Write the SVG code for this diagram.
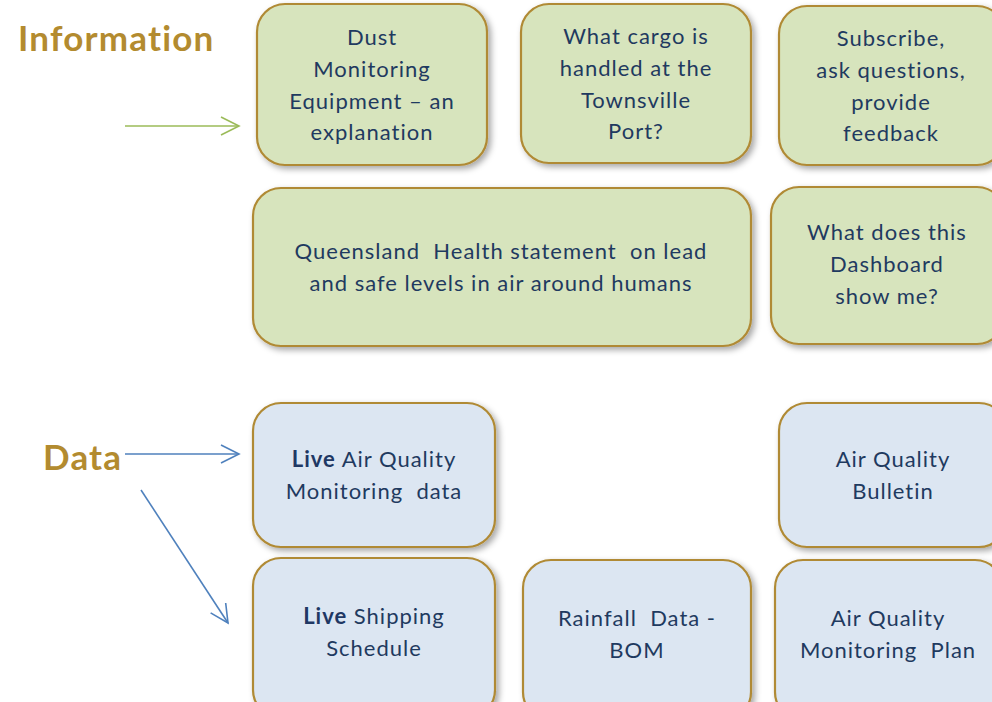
<svg xmlns="http://www.w3.org/2000/svg" width="992" height="702" viewBox="0 0 992 702">
<defs>
<filter id="sh" x="-10%" y="-10%" width="130%" height="130%">
<feDropShadow dx="3" dy="3" stdDeviation="3" flood-color="#000" flood-opacity="0.35"/>
</filter>
<marker id="ag" viewBox="-20 -11 22 22" refX="0" refY="0" markerWidth="22" markerHeight="22" markerUnits="userSpaceOnUse" orient="auto">
<path d="M-18,-9 L0,0 L-18,9" fill="none" stroke="#9BBB59" stroke-width="1.6"/>
</marker>
<marker id="ab" viewBox="-20 -11 22 22" refX="0" refY="0" markerWidth="22" markerHeight="22" markerUnits="userSpaceOnUse" orient="auto">
<path d="M-18,-9 L0,0 L-18,9" fill="none" stroke="#4F81BD" stroke-width="1.6"/>
</marker>
</defs>
<style>
.box{stroke:#B08A34;stroke-width:2.2;filter:url(#sh)}
.g{fill:#D7E4BD}
.b{fill:#DCE6F2}
.t{font-family:Lato,"Open Sans",sans-serif;font-size:22px;fill:#1F3A60;text-anchor:middle;letter-spacing:1px;white-space:pre}
.lbl{font-family:Lato,"Open Sans",sans-serif;font-weight:bold;font-size:35px;fill:#B38B2F;letter-spacing:1.2px}
.bold{font-weight:bold;fill:#1F3864}
</style>
<rect width="992" height="702" fill="#FFFFFF"/>
<text class="lbl" x="18" y="51">Information</text>
<text class="lbl" x="43" y="470">Data</text>
<g id="connectors">
<line x1="125" y1="126" x2="239" y2="126" stroke="#9BBB59" stroke-width="1.6" marker-end="url(#ag)"/>
<line x1="125" y1="454" x2="239" y2="454" stroke="#4F81BD" stroke-width="1.6" marker-end="url(#ab)"/>
<line x1="141" y1="490" x2="228" y2="623" stroke="#4F81BD" stroke-width="1.6" marker-end="url(#ab)"/>
</g>
<g id="dust">
<rect class="box g" x="257" y="4" width="230" height="161" rx="28"/>
<text class="t" x="372" y="45">Dust</text>
<text class="t" x="372" y="77">Monitoring</text>
<text class="t" x="372" y="109">Equipment – an</text>
<text class="t" x="372" y="140">explanation</text>
</g>
<g id="cargo">
<rect class="box g" x="521" y="4" width="230" height="159" rx="28"/>
<text class="t" x="636" y="44">What cargo is</text>
<text class="t" x="636" y="76">handled at the</text>
<text class="t" x="636" y="108">Townsville</text>
<text class="t" x="636" y="139">Port?</text>
</g>
<g id="subscribe">
<rect class="box g" x="779" y="6" width="226" height="159" rx="28"/>
<text class="t" x="891" y="46">Subscribe,</text>
<text class="t" x="891" y="78">ask questions,</text>
<text class="t" x="891" y="110">provide</text>
<text class="t" x="891" y="141">feedback</text>
</g>
<g id="qld">
<rect class="box g" x="253" y="188" width="498" height="158" rx="28"/>
<text class="t" x="501" y="259">Queensland  Health statement  on lead</text>
<text class="t" x="501" y="291">and safe levels in air around humans</text>
</g>
<g id="dashboard">
<rect class="box g" x="771" y="187" width="234" height="157" rx="28"/>
<text class="t" x="887" y="240">What does this</text>
<text class="t" x="887" y="272">Dashboard</text>
<text class="t" x="887" y="304">show me?</text>
</g>
<g id="liveair">
<rect class="box b" x="253" y="403" width="242" height="144" rx="28"/>
<text class="t" x="374" y="467"><tspan class="bold">Live</tspan> Air Quality</text>
<text class="t" x="374" y="499">Monitoring  data</text>
</g>
<g id="bulletin">
<rect class="box b" x="779" y="403" width="228" height="144" rx="28"/>
<text class="t" x="893" y="467">Air Quality</text>
<text class="t" x="893" y="499">Bulletin</text>
</g>
<g id="shipping">
<rect class="box b" x="253" y="558" width="242" height="160" rx="28"/>
<text class="t" x="374" y="624"><tspan class="bold">Live</tspan> Shipping</text>
<text class="t" x="374" y="656">Schedule</text>
</g>
<g id="rainfall">
<rect class="box b" x="523" y="560" width="228" height="160" rx="28"/>
<text class="t" x="637" y="626">Rainfall  Data -</text>
<text class="t" x="637" y="658">BOM</text>
</g>
<g id="plan">
<rect class="box b" x="775" y="560" width="228" height="160" rx="28"/>
<text class="t" x="888" y="626">Air Quality</text>
<text class="t" x="888" y="658">Monitoring  Plan</text>
</g>
</svg>
